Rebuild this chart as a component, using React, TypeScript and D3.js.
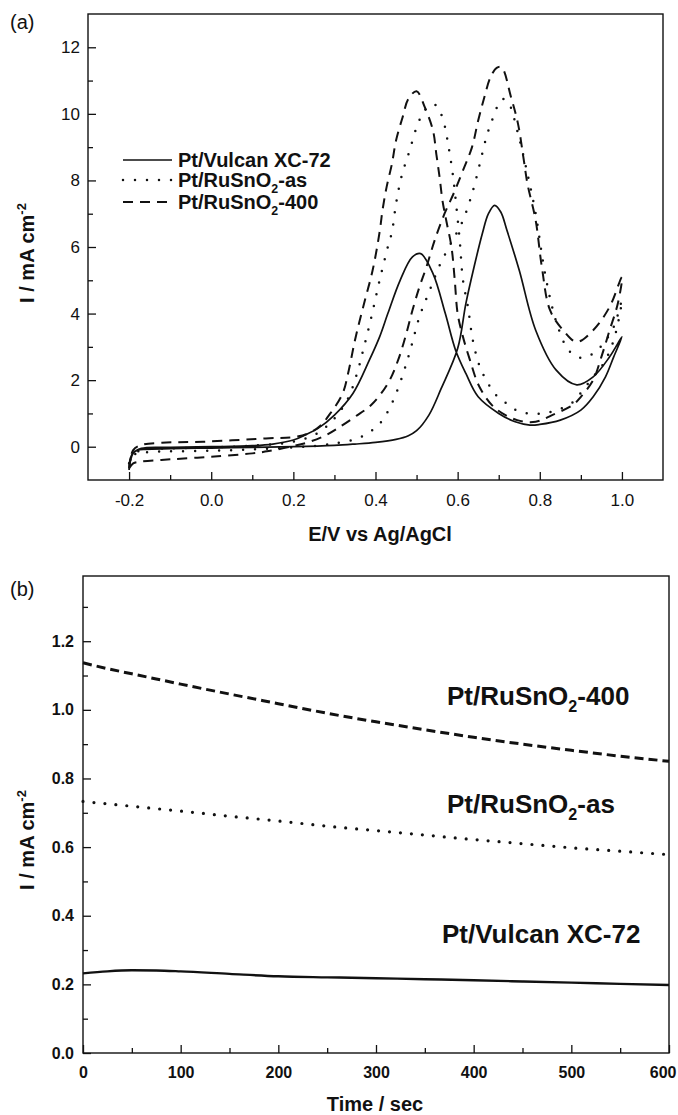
import React, { useEffect, useRef } from 'react';
import * as d3 from 'd3';

type Pt = [number, number];

/* ──────────  (a) cyclic voltammograms : [E / V vs Ag/AgCl, I / mA cm-2]  ────────── */
const vulcanFwd: Pt[] = [
  [-0.2, -0.7], [-0.197, -0.35], [-0.19, -0.18], [-0.18, -0.11], [-0.16, -0.08], [-0.1, -0.06],
  [0, -0.04], [0.1, -0.02], [0.2, 0], [0.3, 0.04], [0.35, 0.08], [0.4, 0.13], [0.45, 0.22],
  [0.48, 0.33], [0.5, 0.48], [0.53, 0.95], [0.56, 1.75], [0.6, 2.95], [0.62, 4.3], [0.64, 5.4],
  [0.66, 6.4], [0.675, 7.0], [0.69, 7.25], [0.705, 7.05], [0.72, 6.5], [0.75, 5.3], [0.79, 3.5],
  [0.84, 2.3], [0.89, 1.86], [0.93, 2.1], [0.97, 2.7], [1.0, 3.3]
];
const vulcanRev: Pt[] = [
  [1.0, 3.3], [0.98, 2.7], [0.96, 2.1], [0.93, 1.5], [0.9, 1.1], [0.85, 0.8], [0.8, 0.67],
  [0.776, 0.65], [0.74, 0.75], [0.7, 1.0], [0.65, 1.5], [0.62, 2.2], [0.595, 2.9], [0.57, 4.0],
  [0.54, 5.2], [0.51, 5.8], [0.49, 5.7], [0.46, 5.0], [0.43, 4.0], [0.41, 3.3], [0.385, 2.6],
  [0.345, 1.6], [0.3, 0.95], [0.26, 0.55], [0.23, 0.36], [0.2, 0.2], [0.15, 0.08], [0.1, 0.03],
  [0, 0], [-0.1, -0.02], [-0.17, -0.05], [-0.19, -0.2], [-0.2, -0.7]
];
const ruAsFwd: Pt[] = [
  [-0.2, -0.5], [-0.195, -0.3], [-0.18, -0.2], [-0.15, -0.16], [-0.1, -0.14], [0, -0.12],
  [0.1, -0.08], [0.2, -0.02], [0.26, 0.03], [0.31, 0.12], [0.35, 0.22], [0.38, 0.4], [0.405, 0.62],
  [0.425, 0.95], [0.446, 1.47], [0.47, 2.3], [0.488, 3.05], [0.507, 3.9], [0.532, 4.7],
  [0.56, 5.55], [0.59, 6.25], [0.613, 6.8], [0.635, 7.6], [0.654, 8.5], [0.67, 9.3], [0.685, 9.85],
  [0.7, 10.3], [0.71, 10.45], [0.725, 10.3], [0.745, 9.5], [0.77, 8.2], [0.79, 7.0], [0.81, 5.4],
  [0.83, 4.2], [0.85, 3.4], [0.87, 2.9], [0.9, 2.67], [0.93, 2.8], [0.955, 3.1], [0.98, 3.6], [1.0, 4.4]
];
const ruAsRev: Pt[] = [
  [1.0, 4.4], [0.98, 3.2], [0.955, 2.5], [0.93, 2.1], [0.905, 1.7], [0.877, 1.3], [0.84, 1.1],
  [0.81, 1.0], [0.78, 1.0], [0.75, 1.05], [0.722, 1.27], [0.69, 1.6], [0.67, 2.0], [0.654, 2.4],
  [0.637, 3.2], [0.625, 4.2], [0.613, 5.0], [0.605, 6.2], [0.597, 7.2], [0.588, 8.2], [0.578, 9.0],
  [0.565, 9.8], [0.548, 10.25], [0.53, 10.25], [0.515, 10.0], [0.503, 9.7], [0.483, 8.9],
  [0.463, 8.1], [0.45, 7.3], [0.44, 6.45], [0.43, 6.0], [0.41, 5.0], [0.39, 3.9], [0.37, 2.9],
  [0.355, 2.2], [0.335, 1.5], [0.31, 1.0], [0.28, 0.6], [0.25, 0.35], [0.2, 0.15], [0.1, 0.03],
  [0, -0.02], [-0.1, -0.05], [-0.17, -0.1], [-0.19, -0.25], [-0.2, -0.5]
];
const ru400Fwd: Pt[] = [
  [-0.2, -0.65], [-0.19, -0.5], [-0.175, -0.45], [-0.1, -0.38], [0, -0.3], [0.1, -0.2],
  [0.14, -0.13], [0.2, 0.02], [0.24, 0.15], [0.28, 0.35], [0.31, 0.57], [0.35, 0.9], [0.39, 1.26],
  [0.43, 1.9], [0.455, 2.6], [0.475, 3.4], [0.49, 4.1], [0.507, 4.8], [0.524, 5.4], [0.544, 6.2],
  [0.568, 7.0], [0.59, 7.6], [0.613, 8.3], [0.635, 9.0], [0.65, 9.8], [0.665, 10.5], [0.68, 11.1],
  [0.695, 11.38], [0.707, 11.4], [0.73, 10.5], [0.747, 9.7], [0.76, 8.7], [0.77, 7.9], [0.79, 6.8],
  [0.805, 5.4], [0.825, 4.1], [0.857, 3.5], [0.89, 3.15], [0.93, 3.5], [0.97, 4.2], [1.0, 5.1]
];
const ru400Rev: Pt[] = [
  [1.0, 5.1], [0.99, 4.3], [0.97, 3.5], [0.95, 2.7], [0.93, 2.0], [0.9, 1.5], [0.88, 1.25],
  [0.83, 0.95], [0.79, 0.75], [0.745, 0.8], [0.69, 1.17], [0.653, 1.8], [0.63, 2.6], [0.613, 3.3],
  [0.6, 4.0], [0.593, 5.0], [0.585, 6.0], [0.573, 6.75], [0.563, 7.4], [0.556, 8.1], [0.548, 8.8],
  [0.54, 9.5], [0.52, 10.2], [0.5, 10.68], [0.48, 10.45], [0.466, 9.9], [0.45, 9.2], [0.44, 8.5],
  [0.427, 7.8], [0.417, 7.1], [0.41, 6.45], [0.393, 5.3], [0.37, 4.2], [0.35, 3.2], [0.335, 2.3],
  [0.32, 1.6], [0.29, 1.0], [0.265, 0.62], [0.24, 0.42], [0.207, 0.3], [0.133, 0.25],
  [-0.02, 0.15], [-0.12, 0.12], [-0.17, 0.05], [-0.19, -0.1], [-0.2, -0.65]
];

/* ──────────  (b) chronoamperometry  ────────── */
const timeSec = [0, 25, 50, 75, 100, 150, 200, 250, 300, 350, 400, 450, 500, 550, 600];
const ru400Cur = [1.137, 1.12, 1.105, 1.09, 1.075, 1.046, 1.018, 0.99, 0.965, 0.942, 0.92, 0.9, 0.882, 0.865, 0.85];
const ruAsCur = [0.733, 0.726, 0.719, 0.712, 0.705, 0.69, 0.676, 0.661, 0.648, 0.635, 0.622, 0.61, 0.598, 0.588, 0.578];
const vulcanCur = [0.232, 0.238, 0.241, 0.2405, 0.238, 0.2305, 0.2235, 0.2205, 0.218, 0.215, 0.212, 0.2085, 0.205, 0.2015, 0.198];

/* tick labels */
const cvMajorX = [-0.2, 0, 0.2, 0.4, 0.6, 0.8, 1.0];
const cvMinorX = [-0.1, 0.1, 0.3, 0.5, 0.7, 0.9];
const cvMajorY = [0, 2, 4, 6, 8, 10, 12];
const cvMinorY = [1, 3, 5, 7, 9, 11];
const caMajorX = [0, 100, 200, 300, 400, 500, 600];
const caMinorX = [50, 150, 250, 350, 450, 550];
const caMajorY = [0, 0.2, 0.4, 0.6, 0.8, 1.0, 1.2];
const caMinorY = [0.1, 0.3, 0.5, 0.7, 0.9, 1.1, 1.3];

/* names: [main, subscript, tail] */
const seriesNames: [string, string, string][] = [
  ['Pt/Vulcan XC-72', '', ''],
  ['Pt/RuSnO', '2', '-as'],
  ['Pt/RuSnO', '2', '-400']
];

const FONT = '"Liberation Sans", Arial, Helvetica, sans-serif';
const INK = '#111';

/* line styles, order matches seriesNames */
const styleA = [
  { w: 1.7, dash: null, cap: 'butt' },
  { w: 2.5, dash: '0 12', cap: 'round' },
  { w: 2, dash: '10 7', cap: 'butt' }
];
const styleB = [
  { w: 2.4, dash: null, cap: 'butt' },
  { w: 3.2, dash: '0 11', cap: 'round' },
  { w: 3, dash: '9 5', cap: 'butt' }
];

function frame(g: any, x: any, y: any, o: any) {
  const [x0, x1] = x.range();
  const [y0, y1] = y.range();
  g.append('rect')
    .attr('x', x0).attr('y', y1)
    .attr('width', x1 - x0).attr('height', y0 - y1)
    .attr('fill', 'none').attr('stroke', INK).attr('stroke-width', 1.4);

  g.append('g').attr('class', 'xmaj').attr('transform', `translate(0,${y0})`)
    .call(d3.axisBottom(x).tickValues(o.xMajor).tickSize(-8).tickPadding(o.xPad).tickFormat(o.xFmt));
  g.append('g').attr('transform', `translate(0,${y0})`)
    .call(d3.axisBottom(x).tickValues(o.xMinor).tickSize(-5).tickFormat(() => ''));
  g.append('g').attr('transform', `translate(${x0},0)`)
    .call(d3.axisLeft(y).tickValues(o.yMajor).tickSize(-8).tickPadding(o.yPad).tickFormat(o.yFmt));
  g.append('g').attr('transform', `translate(${x0},0)`)
    .call(d3.axisLeft(y).tickValues(o.yMinor).tickSize(-5).tickFormat(() => ''));

  g.selectAll('.domain').remove();
  g.selectAll('.tick line').attr('stroke', INK).attr('stroke-width', 1.3);
  g.selectAll('.tick text')
    .attr('fill', INK)
    .attr('font-family', FONT)
    .attr('font-size', o.fontSize)
    .attr('font-weight', o.fontWeight);
}

function chem(g: any, x: number, y: number, parts: [string, string, string], size: number) {
  const t = g.append('text')
    .attr('x', x).attr('y', y)
    .attr('font-family', FONT).attr('font-weight', 'bold')
    .attr('font-size', size).attr('fill', INK);
  t.append('tspan').text(parts[0]);
  if (parts[1]) {
    t.append('tspan').attr('font-size', size * 0.62).attr('dy', size * 0.28).text(parts[1]);
    t.append('tspan').attr('dy', -size * 0.28).text(parts[2]);
  }
  return t;
}

function yTitle(g: any, x: number, y: number) {
  const t = g.append('text')
    .attr('transform', `translate(${x},${y}) rotate(-90)`)
    .attr('text-anchor', 'middle')
    .attr('font-family', FONT).attr('font-weight', 'bold')
    .attr('font-size', 20).attr('fill', INK);
  t.append('tspan').text('I / mA cm');
  t.append('tspan').attr('font-size', 13).attr('dy', -8).text('-2');
}

export default function App() {
  const ref = useRef<SVGSVGElement>(null);

  useEffect(() => {
    const svg = d3.select(ref.current);
    svg.selectAll('*').remove();

    /* ──────────  (a)  ────────── */
    const xa = d3.scaleLinear().domain([-0.3, 1.1]).range([88, 663]);
    const ya = d3.scaleLinear().domain([-1, 13]).range([480, 14]);
    const ga = svg.append('g');

    frame(ga, xa, ya, {
      xMajor: cvMajorX, xMinor: cvMinorX, yMajor: cvMajorY, yMinor: cvMinorY,
      xPad: 14, yPad: 8, fontSize: 17, fontWeight: 'normal',
      xFmt: (d: number) => d.toFixed(1), yFmt: (d: number) => String(d)
    });

    const cvLine = d3.line<Pt>()
      .x(d => xa(d[0]))
      .y(d => ya(d[1]))
      .curve(d3.curveCatmullRom.alpha(0.5));

    const loops = [
      vulcanFwd.concat(vulcanRev.slice(1)),
      ruAsFwd.concat(ruAsRev.slice(1)),
      ru400Fwd.concat(ru400Rev.slice(1))
    ];
    loops.forEach((pts, i) => {
      const s = styleA[i];
      ga.append('path')
        .datum(pts)
        .attr('fill', 'none')
        .attr('stroke', INK)
        .attr('stroke-width', s.w)
        .attr('stroke-linecap', s.cap)
        .attr('stroke-linejoin', 'round')
        .attr('stroke-dasharray', s.dash)
        .attr('d', cvLine);
    });

    /* legend */
    const legY = [160, 180, 202];
    seriesNames.forEach((n, i) => {
      const s = styleA[i];
      ga.append('line')
        .attr('x1', 123).attr('x2', 172)
        .attr('y1', legY[i]).attr('y2', legY[i])
        .attr('stroke', INK)
        .attr('stroke-width', s.w)
        .attr('stroke-linecap', s.cap)
        .attr('stroke-dasharray', s.dash);
      chem(ga, 178, legY[i] + 7, n, 20);
    });

    ga.append('text')
      .attr('x', 380).attr('y', 541)
      .attr('text-anchor', 'middle')
      .attr('font-family', FONT).attr('font-weight', 'bold')
      .attr('font-size', 20).attr('fill', INK)
      .text('E/V vs Ag/AgCl');
    yTitle(ga, 34, 253);
    ga.append('text')
      .attr('x', 10).attr('y', 29)
      .attr('font-family', FONT).attr('font-size', 20).attr('fill', INK)
      .text('(a)');

    /* ──────────  (b)  ────────── */
    const xb = d3.scaleLinear().domain([0, 600]).range([83, 669]);
    const yb = d3.scaleLinear().domain([0, 1.39]).range([1053, 576]);
    const gb = svg.append('g');

    frame(gb, xb, yb, {
      xMajor: caMajorX, xMinor: caMinorX, yMajor: caMajorY, yMinor: caMinorY,
      xPad: 13.5, yPad: 9, fontSize: 16, fontWeight: 'bold',
      xFmt: (d: number) => String(d), yFmt: (d: number) => d.toFixed(1)
    });
    /* keep the last time label inside the page */
    gb.selectAll('.xmaj .tick text')
      .filter((d: any) => d === 600)
      .attr('text-anchor', 'end')
      .attr('dx', 7);

    const caLine = d3.line<number>()
      .x((_, i) => xb(timeSec[i]))
      .y(d => yb(d))
      .curve(d3.curveMonotoneX);

    [vulcanCur, ruAsCur, ru400Cur].forEach((vals, i) => {
      const s = styleB[i];
      gb.append('path')
        .datum(vals)
        .attr('fill', 'none')
        .attr('stroke', INK)
        .attr('stroke-width', s.w)
        .attr('stroke-linecap', s.cap)
        .attr('stroke-dasharray', s.dash)
        .attr('d', caLine);
    });

    /* in-plot labels */
    const labX = [442, 447, 447];
    const labY = [943, 813, 705];
    seriesNames.forEach((n, i) => chem(gb, labX[i], labY[i], n, 26));

    gb.append('text')
      .attr('x', 375).attr('y', 1111)
      .attr('text-anchor', 'middle')
      .attr('font-family', FONT).attr('font-weight', 'bold')
      .attr('font-size', 20).attr('fill', INK)
      .text('Time / sec');
    yTitle(gb, 34, 840);
    gb.append('text')
      .attr('x', 10).attr('y', 596)
      .attr('font-family', FONT).attr('font-size', 20).attr('fill', INK)
      .text('(b)');
  }, []);

  return (
    <svg
      ref={ref}
      width={678}
      height={1115}
      style={{ position: 'absolute', left: 0, top: 0, background: '#fff' }}
    />
  );
}
